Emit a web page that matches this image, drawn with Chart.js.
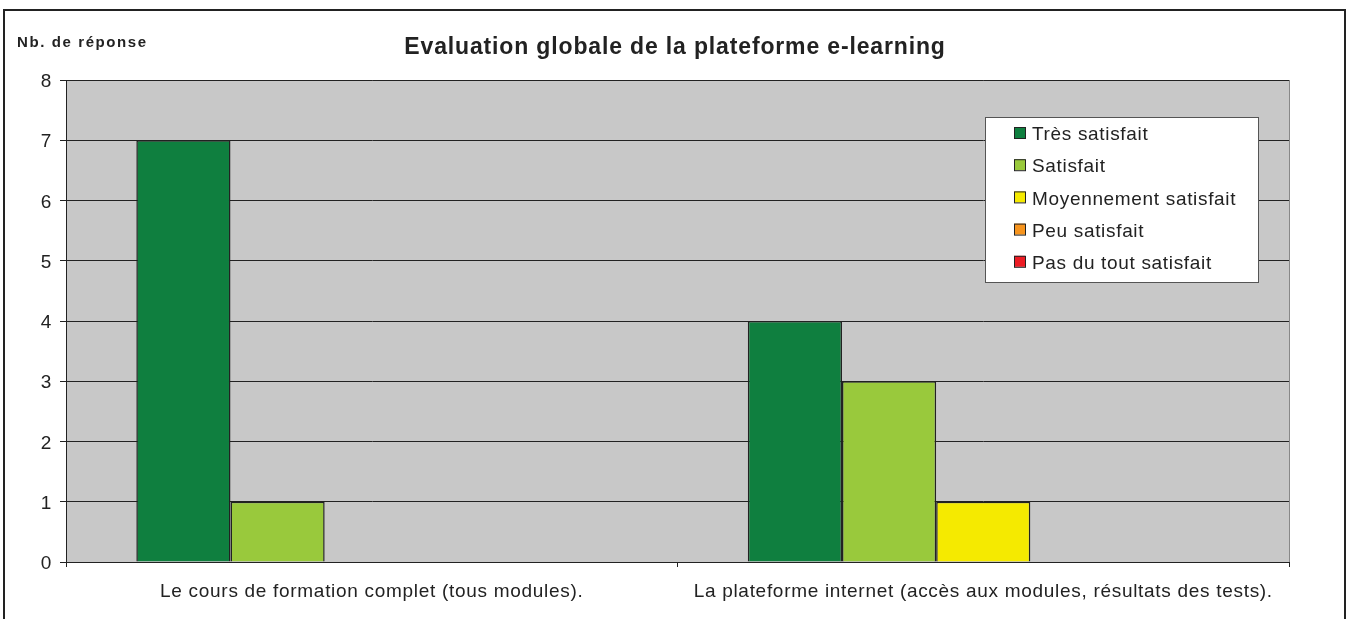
<!DOCTYPE html>
<html>
<head>
<meta charset="utf-8">
<script src="https://cdn.jsdelivr.net/npm/chart.js@4/dist/chart.umd.min.js"></script>
<style>
  html, body { margin: 0; padding: 0; background: #fff; }
  #wrap { width: 1349px; height: 619px; position: relative; }
</style>
</head>
<body>
<div id="wrap"><canvas id="evalChart" width="1349" height="619"></canvas></div>
<script>
// Chart data
const categories = [
  "Le cours de formation complet (tous modules).",
  "La plateforme internet (accès aux modules, résultats des tests)."
];
const seriesLabels = ["Très satisfait", "Satisfait", "Moyennement satisfait", "Peu satisfait", "Pas du tout satisfait"];
const tresSatisfait = [7, 4];
const satisfait = [1, 3];
const moyennement = [0, 1];
const peuSatisfait = [0, 0];
const pasDuTout = [0, 0];
const seriesColors = ["#0f7f3f", "#99c93c", "#f5ea00", "#f7941d", "#ec1c24"];
const yTicks = [0, 1, 2, 3, 4, 5, 6, 7, 8];

const FONT = "'Liberation Sans', Arial, sans-serif";
const TEXT = "#222";

// background, frame and texts drawn around the plot
const decorPlugin = {
  id: "decor",
  beforeDraw(chart) {
    const { ctx, chartArea: a } = chart;
    ctx.save();
    ctx.fillStyle = "#fff";
    ctx.fillRect(0, 0, chart.width, chart.height);
    ctx.fillStyle = "#c8c8c8";
    ctx.fillRect(a.left, a.top, a.right - a.left, a.bottom - a.top);
    ctx.strokeStyle = "#888";
    ctx.lineWidth = 1;
    ctx.strokeRect(a.left + 0.5, a.top + 0.5, a.right - a.left, a.bottom - a.top);
    // outer frame
    ctx.strokeStyle = "#222";
    ctx.lineWidth = 2;
    ctx.strokeRect(4, 10, 1341, 700);
    ctx.restore();
    // wider text spacing for the axis labels
    ctx.letterSpacing = "0.7px";
  },
  afterDraw(chart) {
    const { ctx } = chart;
    ctx.save();
    ctx.fillStyle = TEXT;
    ctx.textBaseline = "middle";
    ctx.font = "bold 23px " + FONT;
    ctx.textAlign = "center";
    ctx.letterSpacing = "0.85px";
    ctx.fillText("Evaluation globale de la plateforme e-learning", 675, 48);
    ctx.font = "bold 15px " + FONT;
    ctx.textAlign = "left";
    ctx.letterSpacing = "1.6px";
    ctx.fillText("Nb. de réponse", 17, 43);

    // legend box inside plot
    const lx = 985, ly = 117, lw = 273, lh = 165;
    ctx.fillStyle = "#fff";
    ctx.fillRect(lx, ly, lw, lh);
    ctx.strokeStyle = "#555";
    ctx.lineWidth = 1;
    ctx.strokeRect(lx + 0.5, ly + 0.5, lw, lh);
    ctx.font = "19px " + FONT;
    ctx.letterSpacing = "0.67px";
    chart.data.datasets.forEach((ds, i) => {
      const cy = 133 + i * 32.2;
      ctx.fillStyle = ds.backgroundColor;
      ctx.fillRect(1014, cy - 6, 11, 11);
      ctx.strokeStyle = "#222";
      ctx.strokeRect(1014.5, cy - 5.5, 11, 11);
      ctx.fillStyle = TEXT;
      ctx.fillText(ds.label, 1032, cy + 2);
    });
    ctx.restore();
    ctx.letterSpacing = "0px";
  }
};

const seriesData = [tresSatisfait, satisfait, moyennement, peuSatisfait, pasDuTout];

new Chart(document.getElementById("evalChart"), {
  type: "bar",
  data: {
    labels: categories,
    datasets: seriesLabels.map((label, i) => ({
      label,
      data: seriesData[i],
      backgroundColor: seriesColors[i],
      borderColor: "#222",
      borderWidth: 1.5,
      barPercentage: 1,
      categoryPercentage: 0.77
    }))
  },
  options: {
    responsive: false,
    animation: false,
    devicePixelRatio: 1,
    layout: { padding: { left: 0, top: 80, right: 60, bottom: 0 } },
    plugins: {
      legend: { display: false },
      title: { display: false },
      tooltip: { enabled: false }
    },
    scales: {
      x: {
        afterFit: (s) => { s.height = 57; },
        border: { color: "#222", width: 1 },
        grid: { drawOnChartArea: false, color: "#222", tickLength: 5, offset: true },
        ticks: { color: TEXT, font: { family: FONT, size: 19 }, padding: 13, maxRotation: 0 }
      },
      y: {
        min: 0,
        max: 8,
        afterFit: (s) => { s.width = 66; },
        afterBuildTicks: (s) => { s.ticks = yTicks.map((v) => ({ value: v })); },
        border: { color: "#222", width: 1 },
        grid: { color: "#222", lineWidth: 1, tickLength: 6 },
        ticks: { color: TEXT, font: { family: FONT, size: 19 }, padding: 8, labelOffset: 2 }
      }
    }
  },
  plugins: [decorPlugin]
});
</script>
</body>
</html>
